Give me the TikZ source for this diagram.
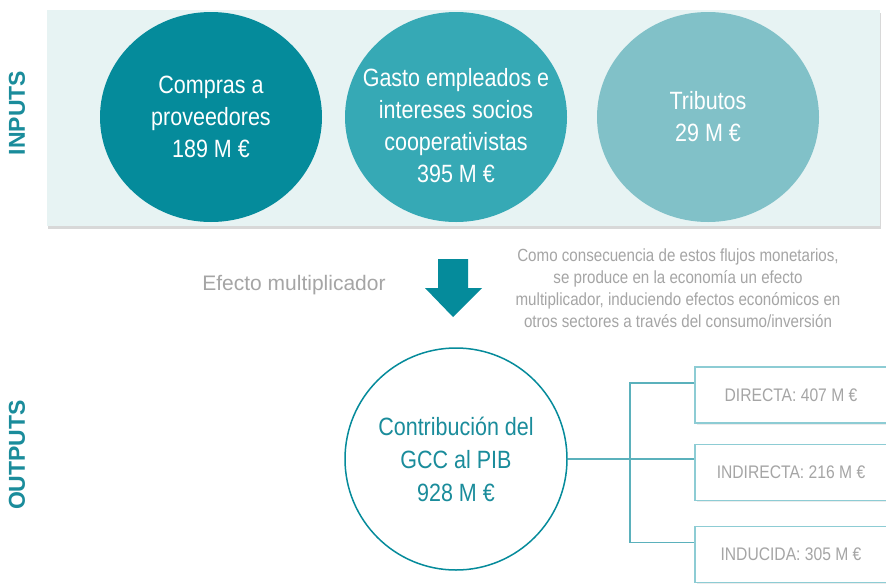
\documentclass[tikz,border=0pt]{standalone}
\usepackage{fontspec}
\setmainfont{Liberation Sans}
\newfontfamily\narrowfont{Liberation Sans}[FakeStretch=0.86]
\usetikzlibrary{shapes.geometric,shadows}

\definecolor{panelbg}{HTML}{E7F3F3}
\definecolor{tealdark}{HTML}{058B9B}
\definecolor{tealmid}{HTML}{36A9B5}
\definecolor{teallight}{HTML}{81C1C8}
\definecolor{tealtext}{HTML}{1A8C9B}
\definecolor{greytext}{HTML}{A5A5A5}
\definecolor{linkline}{HTML}{5BB1BC}
\definecolor{boxline}{HTML}{8DCCD4}

\tikzset{
  bubble/.style={shape=ellipse, minimum width=222pt, minimum height=210pt, inner sep=0pt,
    align=center, text=white, font=\narrowfont\fontsize{25}{32}\selectfont},
  sidelabel/.style={rotate=90, text=tealtext, font=\bfseries\fontsize{23}{23}\selectfont},
  resultbox/.style={draw=boxline, line width=1.2pt, fill=white, minimum width=192pt, minimum height=56pt,
    text=greytext, font=\narrowfont\fontsize{18.2}{18.2}\selectfont,
    drop shadow={shadow xshift=1.5pt, shadow yshift=-1.5pt, opacity=0.15}},
  link/.style={draw=linkline, line width=1.2pt}
}

\begin{document}
\begin{tikzpicture}[x=1pt,y=-1pt]
        \useasboundingbox[fill=white] (0,0) rectangle (886,587);

        % inputs
        \node[fill=panelbg, minimum width=833pt, minimum height=216pt, inner sep=0pt,
          drop shadow={shadow xshift=1pt, shadow yshift=-3pt, opacity=0.3}] (panel) at (463.5,118) {};
        \node[sidelabel] (inputs) at (17,113) {INPUTS};

        \node[bubble, fill=tealdark] (compras) at (211,117) {Compras a\\proveedores\\189 M €};
        \node[bubble, fill=tealmid, label={[align=center, text=white, font=\narrowfont\fontsize{25}{32}\selectfont, yshift=-9pt]center:{Gasto empleados e\\intereses socios\\cooperativistas\\395 M €}}] (gasto) at (456,117) {};
        \node[bubble, fill=teallight] (tributos) at (708,117) {Tributos\\29 M €};

        % efecto multiplicador
        \node[text=greytext, font=\fontsize{21}{21}\selectfont] (efecto) at (294,285) {Efecto multiplicador};
        \fill[tealdark] (438,259) -- (468,259) -- (468,288) -- (482,288) -- (453,317)
          -- (425,288) -- (438,288) -- cycle;
        \node[text=greytext, align=center, font=\narrowfont\fontsize{17.6}{22}\selectfont] (nota) at (678,288)
          {Como consecuencia de estos flujos monetarios,\\se produce en la economía un efecto\\multiplicador, induciendo efectos económicos en\\otros sectores a través del consumo/inversión};

        % outputs
        \node[sidelabel] (outputs) at (17,455) {OUTPUTS};
        \node[shape=ellipse, draw=tealdark, line width=1.5pt, fill=white, minimum width=222pt, minimum height=222pt,
          inner sep=0pt, align=center, text=tealtext, font=\narrowfont\fontsize{25}{33}\selectfont] (pib) at (456,459)
          {Contribución del\\GCC al PIB\\928 M €};

        \node[resultbox] (directa) at (791,395) {DIRECTA: 407 M €};
        \node[resultbox] (indirecta) at (791,472.5) {INDIRECTA: 216 M €};
        \node[resultbox] (inducida) at (791,554.5) {INDUCIDA: 305 M €};

        \coordinate (split) at (630,459);
        \draw[link] (pib.east) -- ([yshift=13.5pt]indirecta.west);
        \draw[link] ([yshift=12pt]directa.west) -| (split) |- ([yshift=12pt]inducida.west);
    \end{tikzpicture}
\end{document}
